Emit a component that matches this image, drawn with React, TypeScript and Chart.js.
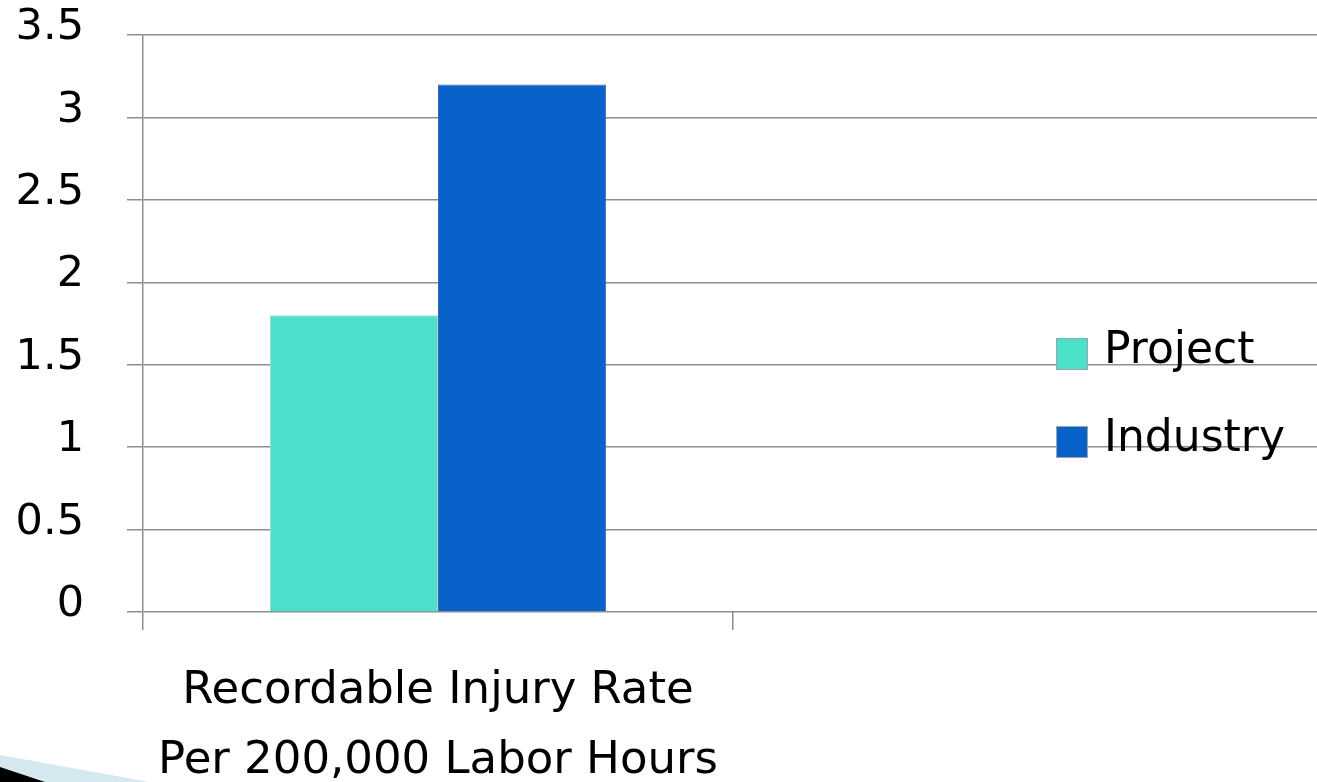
import React, { useEffect, useRef } from "react";
import { Chart, registerables } from "chart.js";

Chart.register(...registerables);

const categories: (string | string[])[] = [
  ["Recordable Injury Rate", "Per 200,000 Labor Hours"],
  "",
];
const seriesNames = ["Project", "Industry"];
const projectValues = [1.8, null];
const industryValues = [3.2, null];
const yMin = 0;
const yMax = 3.5;
const yStep = 0.5;
const seriesColors = ["#4be0c9", "#0862c9"];

const FONT = "'DejaVu Sans', 'Noto Sans', sans-serif";
const GRID = "#8e8e8e";

const legendPlugin = {
  id: "overlayLegend",
  afterDraw(chart: any) {
    const ctx = chart.ctx;
    ctx.save();
    const x = 1056;
    const startY = 338;
    const gap = 88;
    chart.data.datasets.forEach((ds: any, i: number) => {
      const y = startY + i * gap;
      ctx.fillStyle = ds.backgroundColor;
      ctx.fillRect(x, y, 32, 32);
      ctx.strokeStyle = "#9aa6a6";
      ctx.lineWidth = 1;
      ctx.strokeRect(x + 0.5, y + 0.5, 31, 31);
      ctx.fillStyle = "#000";
      ctx.font = `44px ${FONT}`;
      ctx.textAlign = "left";
      ctx.textBaseline = "alphabetic";
      ctx.fillText(ds.label, 1104, y + 25);
    });
    ctx.restore();
  },
};

export default function App() {
  const ref = useRef<HTMLCanvasElement | null>(null);

  useEffect(() => {
    if (!ref.current) return;
    const chart = new Chart(ref.current, {
      type: "bar",
      data: {
        labels: categories,
        datasets: [
          {
            label: seriesNames[0],
            data: projectValues,
            backgroundColor: seriesColors[0],
            borderColor: "#a8d8d0",
            borderWidth: 1,
            categoryPercentage: 0.57,
            barPercentage: 1.0,
          },
          {
            label: seriesNames[1],
            data: industryValues,
            backgroundColor: seriesColors[1],
            borderColor: "#3a6aa8",
            borderWidth: 1,
            categoryPercentage: 0.57,
            barPercentage: 1.0,
          },
        ],
      },
      options: {
        animation: false,
        responsive: true,
        maintainAspectRatio: false,
        layout: { padding: { top: 35, left: 0, right: 7, bottom: 0 } },
        plugins: {
          legend: { display: false },
          tooltip: { enabled: false },
        },
        scales: {
          x: {
            grid: {
              offset: true,
              drawOnChartArea: false,
              drawTicks: true,
              tickLength: 18,
              color: GRID,
              lineWidth: 1.5,
            },
            border: { display: false },
            ticks: {
              color: "#000",
              font: { family: FONT, size: 45, lineHeight: 1.56 },
              padding: 26,
              maxRotation: 0,
              autoSkip: false,
            },
            afterFit(scale: any) {
              scale.height = 170;
              scale.paddingLeft = 0;
              scale.paddingRight = 0;
            },
          },
          y: {
            min: yMin,
            max: yMax,
            ticks: {
              stepSize: yStep,
              color: "#000",
              font: { family: FONT, size: 43 },
              padding: 43,
              labelOffset: -7,
              callback: (v: any) => String(Number(v)),
            },
            grid: {
              color: GRID,
              lineWidth: 1.5,
              tickLength: 16,
            },
            border: { display: true, color: GRID, width: 1.5 },
            afterFit(scale: any) {
              scale.width = 143;
              scale.paddingTop = 0;
              scale.paddingBottom = 0;
            },
          },
        },
      },
      plugins: [legendPlugin],
    });
    return () => chart.destroy();
  }, []);

  return (
    <div
      style={{
        position: "fixed",
        left: 0,
        top: 0,
        width: 1317,
        height: 782,
        overflow: "hidden",
        background: "#fff",
      }}
    >
      <div style={{ position: "absolute", left: 0, top: 0, width: 1330, height: 782 }}>
        <canvas ref={ref} />
      </div>
      <div
        style={{
          position: "absolute",
          left: 0,
          top: 740,
          width: 200,
          height: 42,
          background: "#d6e9f1",
          clipPath: "polygon(0px 15px, 150px 42px, 0px 42px)",
        }}
      />
      <div
        style={{
          position: "absolute",
          left: 0,
          top: 740,
          width: 200,
          height: 42,
          background: "#000",
          clipPath: "polygon(0px 27px, 45px 42px, 0px 42px)",
        }}
      />
    </div>
  );
}
